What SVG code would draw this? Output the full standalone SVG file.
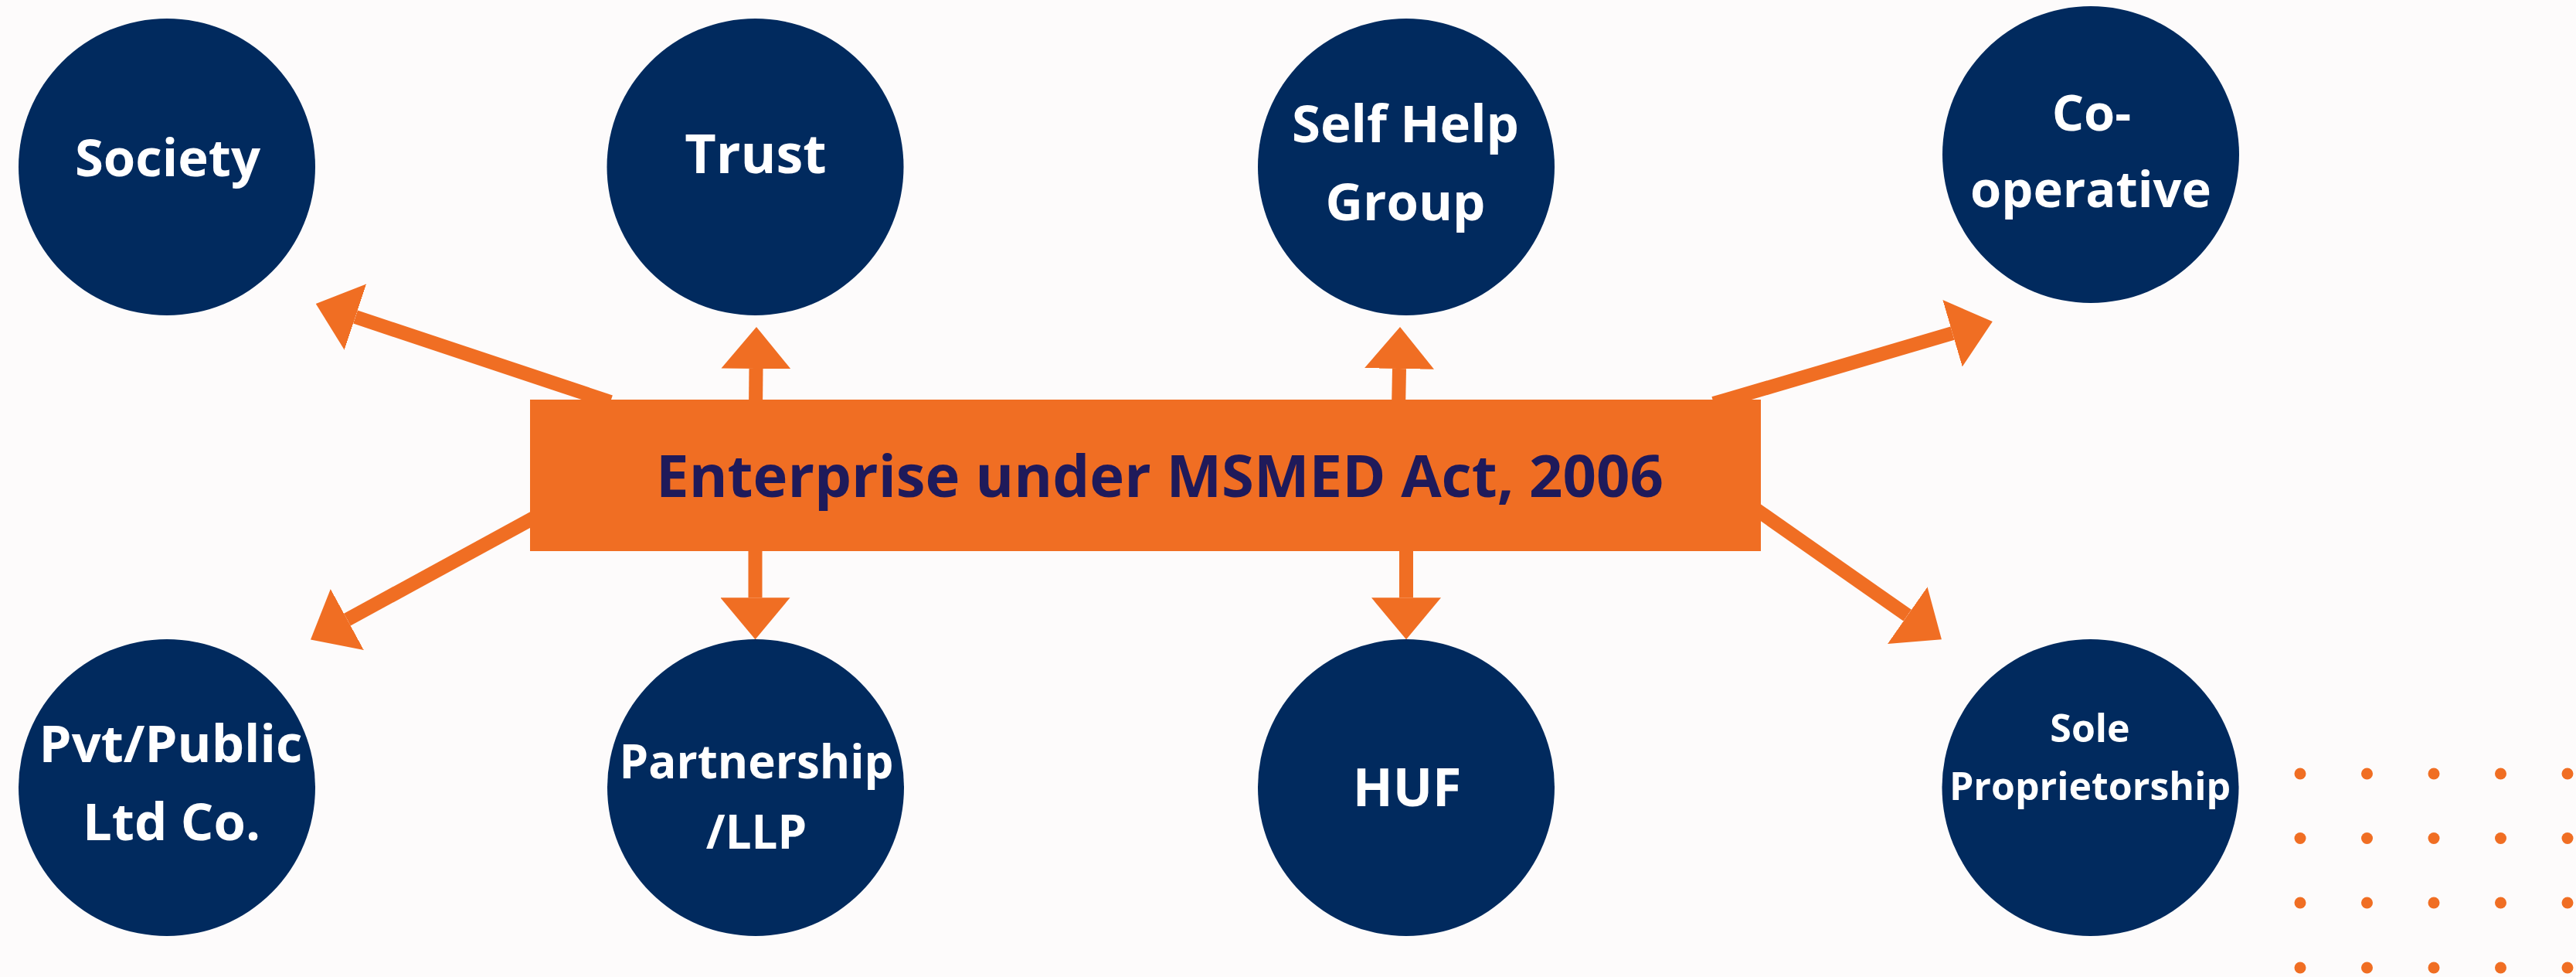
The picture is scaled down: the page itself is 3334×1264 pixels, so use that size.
<svg xmlns="http://www.w3.org/2000/svg" width="3334" height="1264" viewBox="0 0 3334 1264">
<defs>
<style>
.bg{fill:#fdfbfb}
.node{fill:#012a5e}
.lbl{fill:#ffffff;font-family:"Open Sans","Noto Sans","Liberation Sans",sans-serif;font-weight:700;text-anchor:middle}
.main{fill:#f06e23}
.mtxt{fill:#1f1a5a;font-family:"Open Sans","Noto Sans","Liberation Sans",sans-serif;font-weight:700;font-size:76px;text-anchor:middle}
.conn{stroke:#f06e23;stroke-width:18;fill:none;stroke-linecap:butt;marker-end:url(#ah)}
.dot{fill:#f06e23}
</style>
<marker id="ah" markerUnits="userSpaceOnUse" markerWidth="54" markerHeight="90" refX="0" refY="45" orient="auto" viewBox="0 0 54 90">
<path d="M0,0 L54,45 L0,90 Z" fill="#f06e23"/>
</marker>
</defs>
<rect class="bg" x="0" y="0" width="3334" height="1264"/>
<g id="connectors">
<path class="conn" d="M790,520 L460,410"/>
<path class="conn" d="M978,530 L978.5,477"/>
<path class="conn" d="M1810,530 L1811,477"/>
<path class="conn" d="M2218,522 L2527,431.2"/>
<path class="conn" d="M700,665 L449.4,801.6"/>
<path class="conn" d="M977.5,700 L977.5,773.3"/>
<path class="conn" d="M1820,700 L1820,773.3"/>
<path class="conn" d="M2260,650 L2468.7,796.2"/>
</g>
<g id="enterprise">
<rect class="main" x="686" y="517" width="1593" height="196"/>
<text class="mtxt" x="1501" y="643">Enterprise under MSMED Act, 2006</text>
</g>
<g id="society">
<circle class="node" cx="216" cy="216" r="192"/>
<text class="lbl" x="217" y="228" font-size="67">Society</text>
</g>
<g id="trust">
<circle class="node" cx="977.5" cy="216" r="192"/>
<text class="lbl" x="978" y="224" font-size="70">Trust</text>
</g>
<g id="self-help-group">
<circle class="node" cx="1820" cy="216" r="192"/>
<text class="lbl" x="1819" y="184" font-size="67">Self Help</text>
<text class="lbl" x="1819" y="285" font-size="67">Group</text>
</g>
<g id="co-operative">
<circle class="node" cx="2706" cy="200" r="192"/>
<text class="lbl" x="2707" y="169" font-size="65">Co-</text>
<text class="lbl" x="2706" y="268" font-size="65">operative</text>
</g>
<g id="pvt-public">
<circle class="node" cx="216" cy="1019" r="192"/>
<text class="lbl" x="221" y="986" font-size="67">Pvt/Public</text>
<text class="lbl" x="222" y="1087" font-size="67">Ltd Co.</text>
</g>
<g id="partnership">
<circle class="node" cx="978" cy="1019" r="192"/>
<text class="lbl" x="979" y="1007" font-size="60">Partnership</text>
<text class="lbl" x="979" y="1098" font-size="60">/LLP</text>
</g>
<g id="huf">
<circle class="node" cx="1820" cy="1019" r="192"/>
<text class="lbl" x="1821" y="1043" font-size="68">HUF</text>
</g>
<g id="sole-proprietorship">
<circle class="node" cx="2705.5" cy="1019" r="192"/>
<text class="lbl" x="2705" y="960" font-size="50">Sole</text>
<text class="lbl" x="2705" y="1035" font-size="50">Proprietorship</text>
</g>
<g id="dots">
<circle class="dot" cx="2977" cy="1001" r="7.5"/><circle class="dot" cx="3063.5" cy="1001" r="7.5"/><circle class="dot" cx="3150" cy="1001" r="7.5"/><circle class="dot" cx="3236.5" cy="1001" r="7.5"/><circle class="dot" cx="3323" cy="1001" r="7.5"/>
<circle class="dot" cx="2977" cy="1084.5" r="7.5"/><circle class="dot" cx="3063.5" cy="1084.5" r="7.5"/><circle class="dot" cx="3150" cy="1084.5" r="7.5"/><circle class="dot" cx="3236.5" cy="1084.5" r="7.5"/><circle class="dot" cx="3323" cy="1084.5" r="7.5"/>
<circle class="dot" cx="2977" cy="1168" r="7.5"/><circle class="dot" cx="3063.5" cy="1168" r="7.5"/><circle class="dot" cx="3150" cy="1168" r="7.5"/><circle class="dot" cx="3236.5" cy="1168" r="7.5"/><circle class="dot" cx="3323" cy="1168" r="7.5"/>
<circle class="dot" cx="2977" cy="1252" r="7.5"/><circle class="dot" cx="3063.5" cy="1252" r="7.5"/><circle class="dot" cx="3150" cy="1252" r="7.5"/><circle class="dot" cx="3236.5" cy="1252" r="7.5"/><circle class="dot" cx="3323" cy="1252" r="7.5"/>
</g>
</svg>
